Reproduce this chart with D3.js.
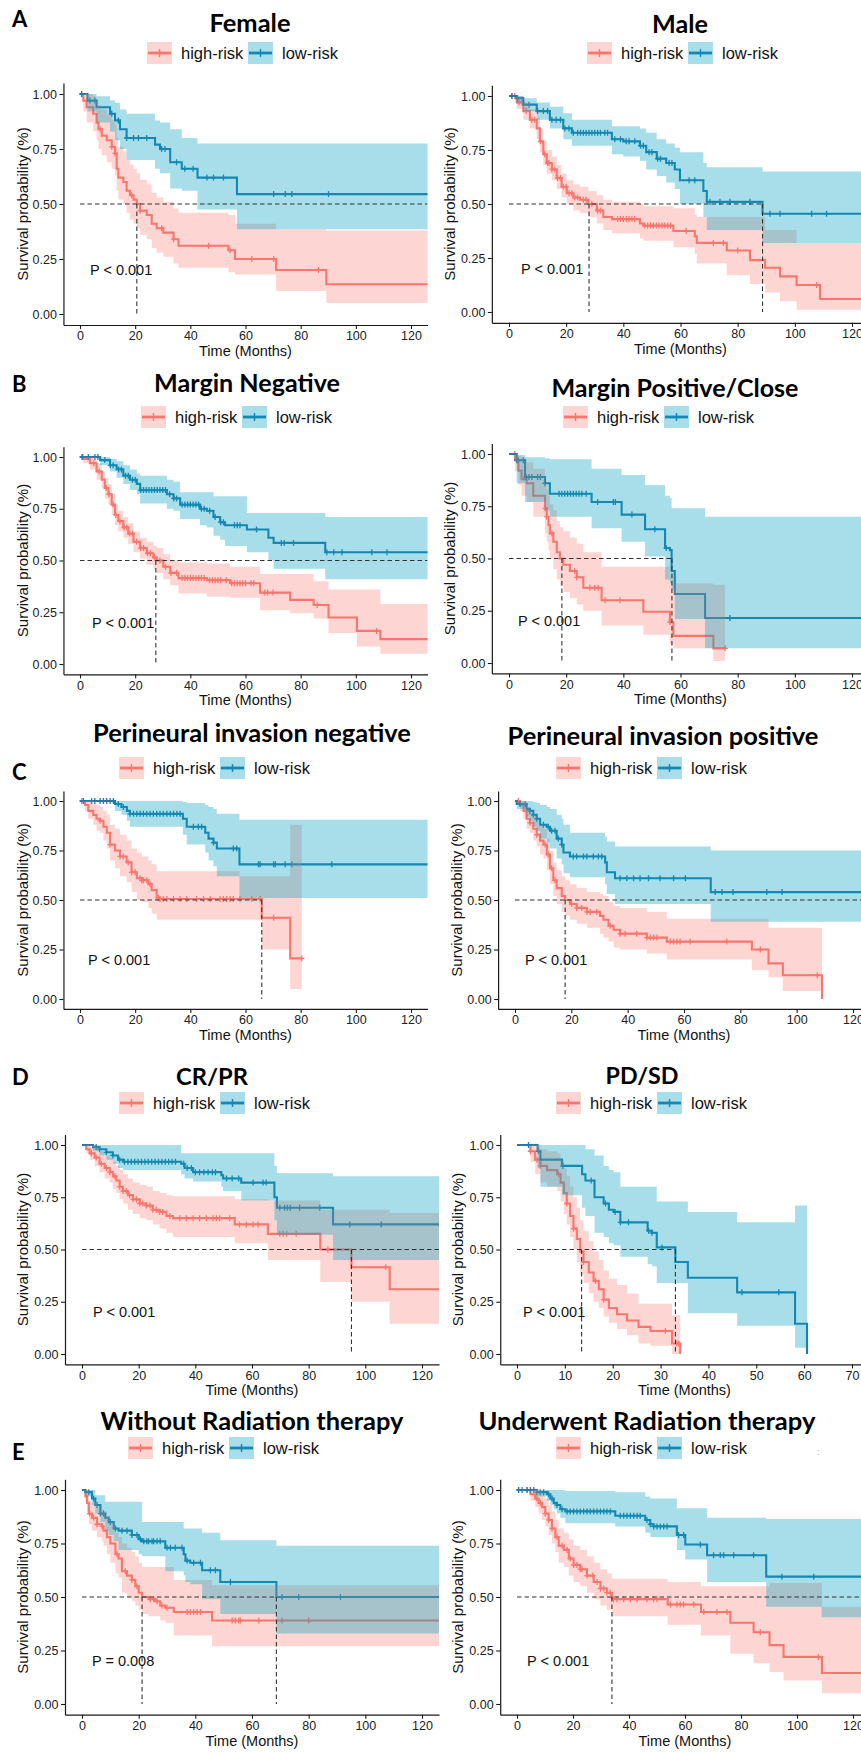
<!DOCTYPE html>
<html><head><meta charset="utf-8">
<script src="https://cdn.jsdelivr.net/npm/d3@7"></script>
<style>body{margin:0;background:#fff}svg{display:block}</style>
</head><body>
<svg id="fig" width="861" height="1752"></svg>
<script>
// ---------------- DATA: [time, survival, lower, upper] step points ----------------
const femaleHigh = [[0,1,1,1],[1.2,.97,.92,1],[2.4,.94,.87,1],[4.8,.91,.83,.99],[6,.87,.79,.97],[6.7,.84,.75,.95],[7.9,.81,.72,.93],[9.7,.79,.69,.91],[11.5,.76,.66,.88],[12.7,.73,.63,.86],[13.3,.66,.56,.80],[13.9,.62,.52,.76],[15.7,.60,.50,.74],[16.9,.56,.46,.70],[18.1,.54,.43,.68],[19.4,.52,.41,.66],[20.6,.50,.39,.64],[21.8,.47,.36,.61],[24.2,.45,.34,.59],[26,.41,.30,.55],[27.8,.39,.28,.53],[30.2,.37,.26,.51],[33.9,.34,.23,.48],[35.7,.31,.21,.46],[53.8,.29,.19,.45],[56.2,.25,.18,.41],[71.1,.20,.105,.385],[89.3,.135,.05,.38],[130,.135,.05,.38]];
const femaleLow = [[0,1,1,1],[2.7,.97,.92,1],[6,.94,.87,.99],[10.9,.91,.83,.97],[12.7,.88,.79,.96],[14.5,.84,.75,.93],[16.9,.80,.70,.91],[27.2,.77,.66,.88],[29,.75,.64,.87],[32.7,.69,.57,.84],[36.9,.66,.56,.80],[42.6,.62,.475,.775],[56.9,.545,.385,.775],[130,.545,.385,.775]];
const femaleHighCensor = [7.3,11.5,12.7,18.7,21.8,29.6,33.9,46.6,54.4,62.3,70.2,86.5];
const femaleLowCensor = [0.6,3.6,5.4,11.5,13.9,16.9,19.4,21.2,24.2,29.6,30.8,35,38,41,46,48.4,52,70.2,74.4,76.8,90.1];

const maleHigh = [[0,1,1,1],[2.7,.97,.94,1],[5,.93,.89,.97],[7.3,.89,.85,.94],[9.7,.85,.80,.90],[10.8,.79,.74,.85],[12,.73,.68,.79],[13.2,.69,.64,.75],[15,.66,.61,.72],[16.7,.62,.57,.68],[18.4,.58,.53,.64],[20.2,.55,.50,.61],[22.5,.53,.47,.59],[24.8,.52,.46,.58],[27.8,.50,.44,.56],[30.7,.47,.41,.54],[33,.44,.38,.52],[36,.43,.365,.51],[45.8,.41,.34,.50],[47,.40,.33,.49],[57.5,.375,.30,.48],[65,.35,.27,.45],[65.7,.32,.225,.44],[76.2,.285,.17,.44],[84.3,.24,.13,.44],[89.6,.205,.09,.38],[94.8,.165,.05,.38],[100.6,.125,.01,.32],[108.8,.06,.01,.32],[130,.06,.01,.32]];
const maleLow = [[0,1,1,1],[2.7,.99,.97,1],[5,.96,.93,.99],[9.7,.93,.89,.97],[14.3,.89,.85,.95],[19,.85,.80,.92],[22,.83,.77,.89],[36,.80,.73,.86],[40,.79,.72,.86],[45.8,.77,.70,.85],[48,.74,.66,.83],[51.7,.71,.63,.80],[55,.69,.60,.78],[58,.66,.57,.76],[59.8,.61,.50,.74],[68,.56,.44,.69],[69.2,.51,.38,.67],[88.7,.455,.32,.65],[130,.455,.32,.65]];
const maleHighCensor = [1,2,3.5,4.5,6,8,9,11,12.5,13.5,14,15,16,17,18,19,20,21,22,23,24,26,27,29,31,32,38,39,40,41,42,43,44,47.5,48.5,49.5,50.5,51.5,52.5,53.5,54.5,55.5,56.5,62,71.5,75,80,107.6];
const maleLowCensor = [1,3,7,10,12,13.5,15,16.5,18,19.5,21,22.5,24,25,26,27,28,29,30,31,32,33.5,34.5,37,39,41,42,44,46,47,49,50,52,53,56,57,63,65,70.3,73.8,77.3,84.3,91.3,94.8,105.9,111.1];

const marginNegHigh = [[0,1,1,1],[1.2,.99,.97,1],[3.6,.97,.94,1],[6,.93,.89,.97],[7.9,.89,.85,.93],[9,.85,.80,.90],[10.3,.82,.77,.87],[11.5,.77,.72,.82],[12.7,.72,.67,.77],[13.9,.69,.64,.74],[15.7,.66,.61,.71],[17.5,.63,.58,.68],[19.4,.59,.54,.64],[21.8,.56,.51,.61],[24.2,.535,.48,.59],[26.6,.515,.46,.57],[27.8,.50,.44,.56],[30.2,.47,.41,.53],[32.7,.44,.38,.50],[35.7,.415,.34,.49],[46,.405,.325,.485],[54.4,.39,.32,.47],[65.3,.345,.26,.435],[76.2,.31,.245,.435],[84.7,.285,.22,.40],[90.1,.225,.15,.36],[100.4,.16,.085,.36],[108.9,.12,.05,.29],[130,.12,.05,.29]];
const marginNegLow = [[0,1,1,1],[7.3,.985,.96,1],[10.9,.96,.93,.99],[13.3,.94,.90,.98],[15.7,.91,.87,.96],[18.1,.89,.84,.94],[20.6,.87,.82,.92],[21.8,.84,.775,.91],[31.5,.82,.75,.89],[33.9,.80,.74,.88],[36.3,.77,.70,.83],[43.5,.75,.67,.83],[46,.74,.66,.83],[48.4,.71,.62,.81],[50.8,.685,.60,.81],[52.6,.67,.57,.81],[60.5,.65,.54,.73],[68.3,.61,.50,.73],[70.2,.585,.46,.73],[88.9,.54,.41,.71],[130,.54,.41,.71]];
const marginNegHighCensor = [0.6,5,7,9.5,10.5,12,13,14.5,16,17,18,19,20.5,22,23,24.5,25.5,27,29,31,33,35,37,38,39,40,41,42,43,44,45,47,48,49,50,51,53,55,56,57,58,59,60,62,63,67,68,70,86,107.5];
const marginNegLowCensor = [1,3,5.4,6.5,9,11,12,14,15,16.5,17.5,19,20,22,23,24,25,26,27,28,29,30,31,32.5,34,35,37,38,39,40,41,42,43,44,45,47,49,51,52,56,57,58,64,73,74,77.4,89.5,92,95,105.8,111.3];

const marginPosHigh = [[0,1,1,1],[2.1,.97,.92,1],[3.3,.92,.85,.99],[4.4,.88,.80,.98],[6.2,.86,.77,.96],[8.5,.80,.70,.93],[12.6,.74,.62,.86],[13.2,.70,.58,.83],[13.8,.66,.54,.80],[14.3,.62,.50,.76],[15.5,.58,.45,.73],[16.7,.53,.40,.68],[17.8,.50,.37,.65],[19,.47,.34,.63],[21.3,.44,.31,.60],[23.7,.41,.28,.57],[26,.36,.25,.53],[32.4,.30,.18,.46],[47,.245,.135,.46],[56.3,.195,.09,.42],[57.5,.13,.07,.38],[71.5,.07,.01,.375],[75.6,.07,.01,.375]];
const marginPosLow = [[0,1,1,1],[2.7,.97,.86,.995],[5.6,.89,.77,.985],[12.6,.86,.73,.98],[14.3,.81,.70,.975],[28.9,.77,.645,.93],[39.4,.71,.58,.90],[47.6,.64,.51,.85],[54.6,.55,.40,.80],[56.3,.54,.38,.79],[56.9,.44,.35,.74],[58,.33,.21,.74],[68.6,.215,.07,.70],[130,.215,.07,.70]];
const marginPosHighCensor = [2,12.6,13.2,15,23,23.7,28.3,30,31.2,33.6,38.8,56.3,75.6];
const marginPosLowCensor = [2.7,3.2,5,6,7,8,10,11,12.6,17.5,18.5,19.5,20.5,21.5,22.5,23.5,24.5,25.5,27,31,36.5,37.2,43,51,55,77.3];

const pniNegHigh = [[0,1,1,1],[1.8,.98,.95,1],[3,.95,.91,1],[4.8,.93,.88,.99],[6,.91,.85,.98],[7.3,.90,.84,.97],[8.5,.87,.80,.95],[9.7,.84,.76,.93],[10.9,.78,.70,.88],[12.7,.75,.66,.86],[14.5,.72,.62,.83],[16.9,.69,.59,.80],[18.7,.64,.54,.76],[20.6,.61,.50,.74],[22.4,.60,.49,.72],[24.8,.58,.46,.70],[26,.55,.43,.68],[27.8,.51,.40,.645],[29,.505,.40,.645],[57.8,.505,.40,.62],[65.9,.41,.25,.62],[76.2,.205,.05,.88],[80.4,.205,.05,.88]];
const pniNegLow = [[0,1,1,1],[12.7,.985,.95,1],[15,.97,.93,1],[17,.95,.90,1],[18.1,.935,.87,1],[37.3,.91,.83,.995],[38.7,.87,.78,.99],[45.4,.84,.74,.98],[46.6,.81,.70,.97],[48.4,.79,.67,.96],[49.6,.76,.62,.935],[57.8,.68,.51,.905],[130,.68,.51,.905]];
const pniNegHighCensor = [0.6,7.3,10.9,14.5,15.7,17.5,18.7,20,21.8,22.4,23,24.2,25.4,28.4,29,30.2,31.5,33.9,36.3,38.7,42.3,44.8,47.2,50.8,52,53.2,54.4,55.6,58,62.3,65.3,70.2,80.4];
const pniNegLowCensor = [1.2,4.2,5.4,7.3,8.5,9.7,10.9,12.1,13.9,15.7,18.1,19.4,20.6,21.8,23,24.2,25.4,26.6,27.8,29,30.2,31.5,32.7,33.9,35.1,36.3,41.1,42.9,44.1,48.4,55.6,56.8,64.7,65.3,70.2,70.8,74.4,76.8,91.3];

const pniPosHigh = [[0,1,1,1],[1.8,.98,.95,1],[3,.95,.91,1],[4.1,.91,.86,.97],[5.3,.89,.84,.95],[6.5,.86,.80,.93],[7.7,.83,.77,.90],[8.9,.80,.73,.88],[10.1,.78,.71,.86],[11.3,.73,.65,.81],[12.4,.66,.58,.75],[13.6,.60,.52,.69],[14.8,.56,.48,.65],[16.6,.52,.44,.62],[17.8,.50,.42,.60],[19.5,.48,.40,.58],[21.9,.46,.38,.56],[25.5,.44,.36,.54],[30.2,.42,.33,.53],[31.4,.40,.31,.52],[33.2,.37,.29,.49],[35,.35,.26,.47],[37.3,.33,.25,.46],[46.8,.31,.23,.44],[53.9,.29,.20,.405],[84.1,.25,.145,.405],[90,.18,.11,.36],[95.1,.12,.04,.36],[109,0,0,0]];
const pniPosLow = [[0,1,1,1],[0.6,.985,.96,1],[4.1,.96,.92,1],[5.3,.95,.90,1],[6.5,.93,.87,.995],[7.7,.91,.85,.99],[8.9,.88,.81,.98],[11.3,.87,.79,.97],[12.4,.85,.76,.96],[14.8,.81,.71,.93],[16.6,.78,.68,.91],[17.2,.74,.635,.88],[19.5,.72,.615,.84],[32,.69,.58,.82],[32.6,.64,.53,.795],[35.5,.61,.48,.77],[69.5,.54,.39,.75],[130,.54,.39,.75]];
const pniPosHighCensor = [1.2,5.3,7.7,10.7,11.8,13,14.2,20.1,21.9,23.7,25.5,26.7,29,33.8,37.3,39.1,43.2,46.8,48,49.2,50.4,55.1,56.3,57.5,58.6,62.2,75.2,87.1,107.3];
const pniPosLowCensor = [1.8,3.6,5.3,6.5,7.7,10.1,11.8,13,14.2,15.4,16.6,20.7,21.9,24.3,25.5,27.8,29.6,30.8,37.3,39.7,42.1,44.4,47.4,51.5,56.3,60.5,71.1,73.5,77.4,89.4,94.8];

const crprHigh = [[0,1,1,1],[1.5,.98,.96,1],[2.7,.96,.93,1],[4.5,.94,.90,.99],[6.2,.91,.87,.97],[8,.89,.84,.95],[9.8,.87,.82,.94],[10.9,.85,.79,.92],[12.1,.83,.77,.90],[13.3,.80,.74,.88],[14.5,.78,.72,.86],[16.2,.76,.69,.84],[18,.74,.67,.82],[20.4,.72,.65,.81],[22.7,.71,.64,.80],[25,.69,.62,.78],[27.4,.68,.60,.77],[29.8,.66,.58,.76],[32.1,.65,.56,.755],[53.9,.62,.53,.74],[65.6,.575,.45,.735],[84.1,.50,.345,.69],[95.1,.415,.25,.69],[108.6,.31,.145,.675],[130,.31,.145,.675]];
const crprLow = [[0,1,1,1],[3.9,.99,.97,1],[6.2,.98,.95,1],[8.6,.965,.93,1],[10.9,.95,.91,1],[12.7,.93,.89,1],[14.5,.92,.88,1],[35,.91,.86,.96],[36.2,.89,.84,.96],[39.2,.87,.825,.96],[49.2,.855,.80,.96],[49.8,.84,.78,.96],[56.2,.82,.735,.96],[67.9,.75,.64,.90],[68.8,.70,.57,.865],[88.6,.62,.45,.85],[130,.62,.45,.85]];
const crprHighCensor = [3.3,5,6.8,8.6,9.8,11.6,13.3,14.5,15.6,16.8,18,19.2,20.4,21.5,22.7,24,25,26.2,27.4,28.5,31,34.5,36.8,39.2,41.5,43.9,46.2,47.4,48.6,52.1,55.6,58,60.4,62.1,69.8,71,72.2,75.6,86.8,107.2];
const crprLowCensor = [5,6.2,8.6,10.9,13.3,15,16.2,17.4,18.6,19.8,21,22.2,23.4,24.6,25.8,27,28.2,29.4,30.6,31.8,33,35.9,37.1,38.6,40,41.5,43,44.5,46,47.1,51,53,55.3,60.4,63.9,65,69.8,71.5,72.5,73.5,76.8,83.9,94.5,105.6];

const pdsdHigh = [[0,1,1,1],[2.8,.97,.92,1],[3.8,.93,.86,1],[4.9,.90,.82,.98],[6.3,.88,.80,.97],[8.4,.86,.78,.96],[9.1,.82,.73,.93],[9.8,.77,.67,.89],[10.4,.72,.62,.85],[11.1,.66,.56,.80],[11.8,.60,.50,.75],[12.5,.55,.44,.70],[13.2,.49,.38,.64],[13.9,.44,.34,.59],[15,.39,.29,.54],[16,.35,.25,.49],[17.1,.31,.22,.45],[18.1,.26,.18,.40],[19.2,.22,.15,.36],[20.9,.19,.12,.33],[23,.16,.09,.29],[25.4,.13,.05,.24],[27.9,.11,.04,.24],[32.4,.05,0,.185],[34.1,0,0,0]];
const pdsdLow = [[0,1,1,1],[4.3,.97,.89,1],[4.9,.93,.80,1],[9.4,.90,.76,1],[13.6,.86,.70,1],[14.3,.83,.66,.98],[16.2,.75,.58,.95],[18.1,.72,.56,.90],[19.2,.69,.53,.88],[20.2,.68,.52,.87],[21.6,.63,.465,.80],[27.3,.59,.43,.80],[28.2,.58,.42,.80],[29.2,.51,.34,.73],[33.1,.44,.34,.73],[35.7,.365,.195,.68],[46,.295,.135,.63],[58.1,.145,.03,.71],[60.6,0,0,0]];
const pdsdHighCensor = [2.8,4.2,4.9,8.7,10.4,11.8,13.9,16.4,18.1,31,33.4,33.8];
const pdsdLowCensor = [2.4,4.5,9.6,15.5,18.5,20.5,21.6,23.3,27.5,28.2,30.3,47,54.7];

const noRTHigh = [[0,1,1,1],[1.2,.97,.94,1],[1.8,.94,.90,1],[2.4,.89,.84,.95],[3.5,.87,.81,.94],[5.3,.84,.78,.92],[7.1,.83,.76,.91],[7.6,.81,.74,.90],[8.8,.78,.70,.88],[10,.75,.66,.85],[11.8,.70,.61,.80],[12.9,.68,.59,.78],[14.1,.62,.52,.75],[15.9,.60,.50,.73],[17.6,.58,.48,.71],[18.8,.55,.46,.69],[20,.52,.44,.66],[21.2,.50,.42,.64],[23.5,.49,.41,.64],[25.9,.48,.41,.64],[27.6,.46,.39,.64],[29.4,.45,.38,.64],[32.4,.43,.32,.58],[45.9,.39,.27,.555],[130,.39,.27,.555]];
const noRTLow = [[0,1,1,1],[1.2,.99,.97,1],[3.5,.96,.93,1],[4.7,.93,.89,.975],[6.5,.89,.85,.975],[8.2,.87,.81,.945],[9.4,.85,.79,.945],[11.2,.82,.76,.945],[12.9,.81,.72,.945],[17.6,.79,.72,.945],[20,.77,.70,.945],[21.2,.76,.69,.85],[29.4,.73,.62,.85],[35.9,.70,.60,.82],[36.5,.67,.57,.82],[38.2,.66,.56,.82],[42.4,.625,.49,.80],[48.8,.57,.42,.765],[68.6,.50,.33,.74],[130,.50,.33,.74]];
const noRTHighCensor = [2.7,4.1,5.3,7.1,12.4,15.3,17.6,19.4,24.1,25.3,26.5,28.2,30,37.1,38.2,39.4,40.6,41.8,53,54.1,55.3,55.9,62.4,70.6,80];
const noRTLowCensor = [2.4,4.1,5.3,6.5,7.6,10,11.8,14.1,15.9,17.6,19.4,20.6,21.8,22.9,23.5,24.7,25.3,26.5,27.6,30,31.2,32.9,35.3,37.1,39.4,41.8,45.3,47.1,52.4,70.6,76.5,91.2];

const rtHigh = [[0,1,1,1],[4.8,.98,.95,1],[6.5,.96,.92,1],[7.7,.94,.89,1],[8.9,.92,.86,.98],[10.1,.89,.83,.96],[11.3,.86,.79,.93],[12.5,.82,.75,.90],[13.7,.78,.71,.86],[14.9,.74,.66,.82],[16.7,.72,.64,.80],[18.5,.68,.60,.77],[20.2,.65,.57,.74],[22.6,.63,.55,.72],[25,.60,.52,.69],[27.4,.57,.49,.66],[29.8,.54,.46,.63],[32.1,.52,.44,.61],[33.9,.49,.41,.585],[53.8,.465,.37,.57],[65.7,.43,.32,.55],[76.2,.38,.235,.55],[84.5,.335,.19,.55],[90.2,.275,.15,.565],[95.2,.22,.11,.565],[108.9,.145,.05,.455],[130,.145,.05,.455]];
const rtLow = [[0,1,1,1],[7.1,.99,.97,1],[10.7,.98,.95,1],[11.9,.96,.93,1],[13.1,.94,.91,1],[14.3,.93,.89,1],[15.5,.91,.87,1],[17.3,.90,.845,.995],[35.1,.88,.83,.99],[45.8,.86,.80,.97],[47.6,.84,.78,.96],[48.8,.83,.78,.96],[57.1,.79,.72,.915],[60.1,.745,.675,.915],[67.9,.695,.57,.87],[89,.595,.455,.865],[108.8,.595,.405,.865],[130,.595,.405,.865]];
const rtHighCensor = [3.6,7.1,8.3,10.1,11.3,12.5,14.3,16.1,17.9,19,20.2,21.4,22.6,23.2,25,27.1,28.6,29.8,31,32.1,33.3,34.5,35.7,38.1,40.5,42.9,46.4,48.8,50,54.8,57.1,58.3,59.5,63.1,66.7,71.4,75,86.9,107.7];
const rtLowCensor = [0.6,1.8,3.6,4.8,6,7.1,8.3,9.5,11.3,12.5,14.3,16.1,17.9,19,20.2,21.4,22.6,23.8,25,26.2,27.4,28.6,29.8,31,32.1,33.3,36.9,38.1,39.3,40.5,41.7,42.9,44,46.4,47.6,48.8,50,51.2,52.4,53.6,57.7,59.5,65.5,70.2,72.6,73.8,77.4,84.5,94.6,106];

const groupNames = ["high-risk", "low-risk"];
const panelTitles = ["Female","Male","Margin Negative","Margin Positive/Close","Perineural invasion negative","Perineural invasion positive","CR/PR","PD/SD","Without Radiation therapy","Underwent Radiation therapy"];
const panelLetters = ["A","","B","","C","","D","","E",""];
const pValueLabels = ["P < 0.001","P < 0.001","P < 0.001","P < 0.001","P < 0.001","P < 0.001","P < 0.001","P < 0.001","P = 0.008","P < 0.001"];
const xMaxMonths = [120,120,120,120,120,120,120,70,120,120];
const xTickStep = [20,20,20,20,20,20,20,10,20,20];
const medianTimes = [[20.6],[28,88.7],[27.5],[18.5,57],[65.9],[17.8],[95.1],[13.5,33.1],[21.2,68.6],[33.9]];
const medianLineEnd = [null,88.7,null,57,65.9,null,null,33.1,68.6,null];
const yTickValues = [0,0.25,0.5,0.75,1];

// ---------------- LAYOUT (positions only) ----------------
const layout = [
 {px0:80, pxR:411, yTop:94, yBot:314, tx:250, ty:32, tw:81, ly:53, lx:147, px:90, yt:23, lby:27},
 {px0:509,pxR:852, yTop:96, yBot:312, tx:680, ty:33, tw:56, ly:53, lx:587, px:521, yt:450},
 {px0:80, pxR:411, yTop:457,yBot:664, tx:247, ty:392, tw:186, ly:417, lx:141, px:92, yt:23, lby:392},
 {px0:509,pxR:852, yTop:454,yBot:663, tx:675, ty:397, tw:247, ly:417, lx:563, px:518, yt:450},
 {px0:80, pxR:411, yTop:801,yBot:999, tx:252, ty:742, tw:318, ly:768, lx:119, px:88, yt:23, lby:780},
 {px0:515,pxR:853, yTop:801,yBot:999, tx:663, ty:745, tw:311, ly:768, lx:556, px:525, yt:457},
 {px0:82, pxR:422, yTop:1145,yBot:1354, tx:212, ty:1085, tw:72, ly:1103, lx:119, px:93, yt:23, lby:1085},
 {px0:517,pxR:852, yTop:1145,yBot:1354, tx:642, ty:1084, tw:73, ly:1103, lx:556, px:523, yt:458},
 {px0:82, pxR:422, yTop:1490,yBot:1704, tx:252, ty:1430, tw:303, ly:1448, lx:128, px:92, yt:23, lby:1460},
 {px0:517,pxR:853, yTop:1490,yBot:1704, tx:647, ty:1430, tw:337, ly:1448, lx:556, px:527, yt:458}
];

const curves = [
 [femaleHigh, femaleLow, femaleHighCensor, femaleLowCensor],
 [maleHigh, maleLow, maleHighCensor, maleLowCensor],
 [marginNegHigh, marginNegLow, marginNegHighCensor, marginNegLowCensor],
 [marginPosHigh, marginPosLow, marginPosHighCensor, marginPosLowCensor],
 [pniNegHigh, pniNegLow, pniNegHighCensor, pniNegLowCensor],
 [pniPosHigh, pniPosLow, pniPosHighCensor, pniPosLowCensor],
 [crprHigh, crprLow, crprHighCensor, crprLowCensor],
 [pdsdHigh, pdsdLow, pdsdHighCensor, pdsdLowCensor],
 [noRTHigh, noRTLow, noRTHighCensor, noRTLowCensor],
 [rtHigh, rtLow, rtHighCensor, rtLowCensor]
];

const lineColors = ["#F8766D", "#1E7CAC"];
const fillColors = ["rgba(248,118,109,0.3)", "rgba(4,161,192,0.35)"];
const SANS = "'Liberation Sans', Arial, Helvetica, sans-serif";
const TITLEF = "Lato, 'Open Sans', sans-serif";
const INK = "#1a1a1a";

const svg = d3.select("#fig");
svg.append("rect").attr("width",861).attr("height",1752).attr("fill","#fff");
const defs = svg.append("defs");

function survAt(arr, t){ let s = arr[0][1]; for (const d of arr){ if (d[0] <= t + 1e-9) s = d[1]; else break; } return s; }

layout.forEach((L, i) => {
  const R = xMaxMonths[i];
  const span = L.pxR - L.px0;
  const x = d3.scaleLinear().domain([-0.05*R, 1.05*R]).range([L.px0 - 0.05*span, L.pxR + 0.05*span]);
  const y = d3.scaleLinear().domain([-0.05, 1.05]).range([L.yBot + 0.05*(L.yBot-L.yTop), L.yTop - 0.05*(L.yBot-L.yTop)]);
  const [xa, xb] = x.range();
  const [ya, yb] = y.range();
  const g = svg.append("g");

  defs.append("clipPath").attr("id","clip"+i).append("rect")
    .attr("x", xa).attr("y", yb).attr("width", xb - xa).attr("height", ya - yb);
  const plot = g.append("g").attr("clip-path", `url(#clip${i})`);

  const [hi, lo, hiC, loC] = curves[i];
  const series = [hi, lo];
  const censors = [hiC, loC];
  const line = d3.line().x(d => x(d[0])).y(d => y(d[1])).curve(d3.curveStepAfter);
  const area = d3.area().x(d => x(d[0])).y0(d => y(d[2])).y1(d => y(d[3])).curve(d3.curveStepAfter);

  series.forEach((s, k) => {
    plot.append("path").attr("d", line(s)).attr("fill","none")
      .attr("stroke", lineColors[k]).attr("stroke-width", 2.1);
    const cg = plot.append("g").attr("stroke", lineColors[k]).attr("stroke-width", 1.3);
    censors[k].forEach(t => {
      const cx = x(t), cy = y(survAt(s, t));
      cg.append("path").attr("d", `M${cx-2.6},${cy}H${cx+2.6}M${cx},${cy-3}V${cy+3}`);
    });
  });
  series.forEach((s, k) => {
    plot.append("path").attr("d", area(s)).attr("fill", fillColors[k]).attr("stroke","none");
  });
  const hEnd = medianLineEnd[i] == null ? 1.05*R : medianLineEnd[i];
  plot.append("line").attr("x1", x(0)).attr("x2", x(hEnd)).attr("y1", y(0.5)).attr("y2", y(0.5))
    .attr("stroke","#333").attr("stroke-width",1.1).attr("stroke-dasharray","4.5,3");
  medianTimes[i].forEach(m => {
    plot.append("line").attr("x1", x(m)).attr("x2", x(m)).attr("y1", y(0.5)).attr("y2", y(0))
      .attr("stroke","#333").attr("stroke-width",1.1).attr("stroke-dasharray","4.5,3");
  });

  const xTicks = d3.range(0, R + 0.001, xTickStep[i]);
  const gx = g.append("g").attr("transform", `translate(0,${ya})`)
    .call(d3.axisBottom(x).tickValues(xTicks).tickFormat(d3.format("d")).tickSize(4).tickSizeOuter(0).tickPadding(2.5));
  const gy = g.append("g").attr("transform", `translate(${xa},0)`)
    .call(d3.axisLeft(y).tickValues(yTickValues).tickFormat(d3.format(".2f")).tickSize(4).tickSizeOuter(0).tickPadding(2.5));
  [gx, gy].forEach(ax => {
    ax.select(".domain").attr("stroke", INK).attr("stroke-width", 1.2);
    ax.selectAll(".tick line").attr("stroke", INK).attr("stroke-width", 1.1);
    ax.selectAll(".tick text").attr("fill", "#222").style("font-family", SANS).style("font-size", "12.5px");
  });

  g.append("text").attr("x", x(R/2)).attr("y", ya + 31).attr("text-anchor","middle")
    .style("font-family", SANS).style("font-size","14.5px").attr("fill","#111").text("Time (Months)");
  g.append("text").attr("transform", `translate(${L.yt},${y(0.5)}) rotate(-90)`).attr("dy","0.35em")
    .attr("text-anchor","middle").style("font-family", SANS).style("font-size","15px").attr("fill","#111")
    .text("Survival probability (%)");

  g.append("text").attr("x", L.px).attr("y", y(0.2)).attr("dy","0.36em")
    .style("font-family", SANS).style("font-size","14.5px").attr("fill","#111").text(pValueLabels[i]);

  const tt = g.append("text").attr("x", L.tx).attr("y", L.ty).attr("text-anchor","middle")
    .style("font-family", TITLEF).style("font-weight","700").style("font-size","26px").attr("fill","#000")
    .text(panelTitles[i]);
  const w = tt.node().getComputedTextLength();
  if (w > 0) tt.style("font-size", (26 * L.tw / w).toFixed(2) + "px");

  groupNames.forEach((name, k) => {
    const kx = L.lx + k*101, ky = L.ly;
    const lg = g.append("g");
    lg.append("line").attr("x1", kx+1).attr("x2", kx+24).attr("y1", ky).attr("y2", ky)
      .attr("stroke", lineColors[k]).attr("stroke-width", 2.8);
    lg.append("line").attr("x1", kx+12.5).attr("x2", kx+12.5).attr("y1", ky-4).attr("y2", ky+4)
      .attr("stroke", lineColors[k]).attr("stroke-width", 1.4);
    lg.append("rect").attr("x", kx).attr("y", ky-11).attr("width", 25).attr("height", 22)
      .attr("fill", fillColors[k]);
    lg.append("text").attr("x", kx+34).attr("y", ky).attr("dy","0.36em")
      .style("font-family", SANS).style("font-size","16.5px").attr("fill","#111").text(name);
  });

  if (panelLetters[i]) {
    g.append("text").attr("x", 12).attr("y", L.lby)
      .style("font-family", TITLEF).style("font-weight","700").style("font-size","22px").attr("fill","#000")
      .text(panelLetters[i]);
  }
});

svg.append("text").attr("x", 817).attr("y", 1455).style("font-family", SANS).style("font-size","9px")
  .attr("fill","#aaa").text(":");
</script>
</body></html>
